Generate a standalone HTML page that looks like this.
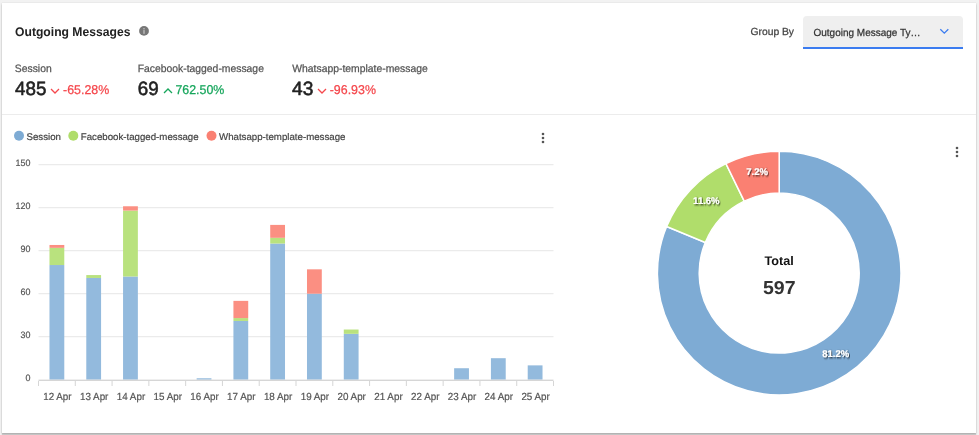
<!DOCTYPE html>
<html><head><meta charset="utf-8">
<style>
html,body{margin:0;padding:0;}
body{width:979px;height:435px;background:#f2f2f2;position:relative;overflow:hidden;font-family:"Liberation Sans",sans-serif;}
.card{position:absolute;left:2px;top:3px;width:974px;height:430px;background:#fff;box-shadow:0 1px 2px rgba(0,0,0,0.16),0 0 1px rgba(0,0,0,0.13),0 2px 1px rgba(0,0,0,0.14);}
svg{position:absolute;left:0;top:0;will-change:transform;}
svg text{font-family:"Liberation Sans",sans-serif;text-rendering:geometricPrecision;}
</style></head><body>
<div class="card"></div>
<svg width="979" height="435" viewBox="0 0 979 435">
<defs>
<filter id="ts" x="-20%" y="-40%" width="140%" height="180%">
<feGaussianBlur in="SourceAlpha" stdDeviation="0.8"/>
<feOffset dx="0.6" dy="0.8" result="b"/>
<feFlood flood-color="#000" flood-opacity="0.75"/>
<feComposite in2="b" operator="in"/>
<feMerge><feMergeNode/><feMergeNode in="SourceGraphic"/></feMerge>
</filter>
</defs>
<rect x="2" y="114" width="974" height="1" fill="#ececec"/>
<text transform="translate(15.00,35.80) scale(0.9650,1)" text-anchor="start" style="font-size:12.60px;font-weight:bold;fill:#222">Outgoing Messages</text>
<circle cx="144" cy="30.9" r="4.9" fill="#777"/>
<rect x="143.20" y="30.10" width="1.6" height="3.7" fill="#b4b4b4"/>
<rect x="143.20" y="28.00" width="1.6" height="1.4" fill="#b4b4b4"/>
<text transform="translate(750.50,34.80) scale(1.0000,1)" text-anchor="start" style="font-size:10.30px;font-weight:normal;fill:#444;stroke:#444;stroke-width:0.25px">Group By</text>
<path d="M803,47 V20 Q803,16 807,16 H959 Q963,16 963,20 V47 Z" fill="#efefef"/>
<rect x="803" y="47" width="160" height="2" fill="#3b7cf0"/>
<text transform="translate(813.50,36.20) scale(0.9700,1)" text-anchor="start" style="font-size:10.30px;font-weight:normal;fill:#333;stroke:#333;stroke-width:0.25px">Outgoing Message Ty…</text>
<path d="M940.3,29.3 L944.3,33.2 L948.3,29.3" fill="none" stroke="#3b7cf0" stroke-width="1.3"/>

<text transform="translate(14.80,72.00) scale(0.9700,1)" text-anchor="start" style="font-size:10.70px;font-weight:normal;fill:#555;stroke:#555;stroke-width:0.25px">Session</text>
<text transform="translate(15.00,94.50) scale(0.9800,1)" text-anchor="start" style="font-size:19.20px;font-weight:normal;fill:#222;stroke:#222;stroke-width:0.55px">485</text>
<path d="M51,89 L55,93 L59,89" fill="none" stroke="#f5484d" stroke-width="1.3"/>
<text transform="translate(63.00,93.70) scale(0.9700,1)" text-anchor="start" style="font-size:12.80px;font-weight:normal;fill:#f5484d;stroke:#f5484d;stroke-width:0.25px">-65.28%</text>
<text transform="translate(137.70,72.00) scale(0.9700,1)" text-anchor="start" style="font-size:10.70px;font-weight:normal;fill:#555;stroke:#555;stroke-width:0.25px">Facebook-tagged-message</text>
<text transform="translate(137.80,94.50) scale(0.9800,1)" text-anchor="start" style="font-size:19.20px;font-weight:normal;fill:#222;stroke:#222;stroke-width:0.55px">69</text>
<path d="M164,93 L168,89 L172,93" fill="none" stroke="#17a65c" stroke-width="1.3"/>
<text transform="translate(175.40,93.50) scale(0.9700,1)" text-anchor="start" style="font-size:12.80px;font-weight:normal;fill:#17a65c;stroke:#17a65c;stroke-width:0.25px">762.50%</text>
<text transform="translate(292.30,72.00) scale(0.9700,1)" text-anchor="start" style="font-size:10.70px;font-weight:normal;fill:#555;stroke:#555;stroke-width:0.25px">Whatsapp-template-message</text>
<text transform="translate(292.10,94.50) scale(1.0000,1)" text-anchor="start" style="font-size:19.20px;font-weight:normal;fill:#222;stroke:#222;stroke-width:0.55px">43</text>
<path d="M318,89 L322,93 L326,89" fill="none" stroke="#f5484d" stroke-width="1.3"/>
<text transform="translate(329.70,93.70) scale(0.9700,1)" text-anchor="start" style="font-size:12.80px;font-weight:normal;fill:#f5484d;stroke:#f5484d;stroke-width:0.25px">-96.93%</text>

<circle cx="19" cy="135.8" r="5" fill="#7eabd4"/>
<circle cx="73.3" cy="135.8" r="5" fill="#b0dd6b"/>
<circle cx="211.5" cy="135.8" r="5" fill="#fa8072"/>
<text transform="translate(26.50,139.70) scale(0.9990,1)" text-anchor="start" style="font-size:9.70px;font-weight:normal;fill:#444;stroke:#444;stroke-width:0.2px">Session</text>
<text transform="translate(80.80,139.70) scale(0.9990,1)" text-anchor="start" style="font-size:9.70px;font-weight:normal;fill:#444;stroke:#444;stroke-width:0.2px">Facebook-tagged-message</text>
<text transform="translate(219.00,139.70) scale(0.9990,1)" text-anchor="start" style="font-size:9.70px;font-weight:normal;fill:#444;stroke:#444;stroke-width:0.2px">Whatsapp-template-message</text>
<g fill="#555">
<circle cx="543" cy="134" r="1.3"/><circle cx="543" cy="138" r="1.3"/><circle cx="543" cy="142" r="1.3"/>
<circle cx="957" cy="148" r="1.3"/><circle cx="957" cy="152" r="1.3"/><circle cx="957" cy="156" r="1.3"/>
</g>
<rect x="38.5" y="164.20" width="515.0" height="1" fill="#e6e6e6"/>
<rect x="38.5" y="207.20" width="515.0" height="1" fill="#e6e6e6"/>
<rect x="38.5" y="250.20" width="515.0" height="1" fill="#e6e6e6"/>
<rect x="38.5" y="293.20" width="515.0" height="1" fill="#e6e6e6"/>
<rect x="38.5" y="336.20" width="515.0" height="1" fill="#e6e6e6"/>
<text transform="translate(30.5,166.30) scale(0.97,1)" text-anchor="end" style="font-size:9.2px;fill:#555;stroke:#555;stroke-width:0.2px">150</text>
<text transform="translate(30.5,209.30) scale(0.97,1)" text-anchor="end" style="font-size:9.2px;fill:#555;stroke:#555;stroke-width:0.2px">120</text>
<text transform="translate(30.5,252.30) scale(0.97,1)" text-anchor="end" style="font-size:9.2px;fill:#555;stroke:#555;stroke-width:0.2px">90</text>
<text transform="translate(30.5,295.30) scale(0.97,1)" text-anchor="end" style="font-size:9.2px;fill:#555;stroke:#555;stroke-width:0.2px">60</text>
<text transform="translate(30.5,338.30) scale(0.97,1)" text-anchor="end" style="font-size:9.2px;fill:#555;stroke:#555;stroke-width:0.2px">30</text>
<text transform="translate(30.5,381.30) scale(0.97,1)" text-anchor="end" style="font-size:9.2px;fill:#555;stroke:#555;stroke-width:0.2px">0</text>
<rect x="49.49" y="265.03" width="14.8" height="114.67" fill="#93badd"/>
<rect x="49.49" y="247.83" width="14.8" height="17.20" fill="#b9e27e"/>
<rect x="49.49" y="244.97" width="14.8" height="2.87" fill="#fb8f82"/>
<rect x="86.28" y="277.93" width="14.8" height="101.77" fill="#93badd"/>
<rect x="86.28" y="275.07" width="14.8" height="2.87" fill="#b9e27e"/>
<rect x="123.06" y="276.50" width="14.8" height="103.20" fill="#93badd"/>
<rect x="123.06" y="210.57" width="14.8" height="65.93" fill="#b9e27e"/>
<rect x="123.06" y="206.27" width="14.8" height="4.30" fill="#fb8f82"/>
<rect x="196.64" y="378.27" width="14.8" height="1.43" fill="#93badd"/>
<rect x="233.42" y="320.93" width="14.8" height="58.77" fill="#93badd"/>
<rect x="233.42" y="318.07" width="14.8" height="2.87" fill="#b9e27e"/>
<rect x="233.42" y="300.87" width="14.8" height="17.20" fill="#fb8f82"/>
<rect x="270.21" y="243.53" width="14.8" height="136.17" fill="#93badd"/>
<rect x="270.21" y="237.80" width="14.8" height="5.73" fill="#b9e27e"/>
<rect x="270.21" y="224.90" width="14.8" height="12.90" fill="#fb8f82"/>
<rect x="306.99" y="293.70" width="14.8" height="86.00" fill="#93badd"/>
<rect x="306.99" y="269.33" width="14.8" height="24.37" fill="#fb8f82"/>
<rect x="343.78" y="333.83" width="14.8" height="45.87" fill="#93badd"/>
<rect x="343.78" y="329.53" width="14.8" height="4.30" fill="#b9e27e"/>
<rect x="454.14" y="368.23" width="14.8" height="11.47" fill="#93badd"/>
<rect x="490.92" y="358.20" width="14.8" height="21.50" fill="#93badd"/>
<rect x="527.71" y="365.37" width="14.8" height="14.33" fill="#93badd"/>
<rect x="38.5" y="379.6" width="515.0" height="1.4" fill="#d6d6d6"/>
<rect x="38.00" y="381.00" width="1" height="5" fill="#d6d6d6"/>
<rect x="74.79" y="381.00" width="1" height="5" fill="#d6d6d6"/>
<rect x="111.57" y="381.00" width="1" height="5" fill="#d6d6d6"/>
<rect x="148.36" y="381.00" width="1" height="5" fill="#d6d6d6"/>
<rect x="185.14" y="381.00" width="1" height="5" fill="#d6d6d6"/>
<rect x="221.93" y="381.00" width="1" height="5" fill="#d6d6d6"/>
<rect x="258.71" y="381.00" width="1" height="5" fill="#d6d6d6"/>
<rect x="295.50" y="381.00" width="1" height="5" fill="#d6d6d6"/>
<rect x="332.29" y="381.00" width="1" height="5" fill="#d6d6d6"/>
<rect x="369.07" y="381.00" width="1" height="5" fill="#d6d6d6"/>
<rect x="405.86" y="381.00" width="1" height="5" fill="#d6d6d6"/>
<rect x="442.64" y="381.00" width="1" height="5" fill="#d6d6d6"/>
<rect x="479.43" y="381.00" width="1" height="5" fill="#d6d6d6"/>
<rect x="516.21" y="381.00" width="1" height="5" fill="#d6d6d6"/>
<rect x="553.00" y="381.00" width="1" height="5" fill="#d6d6d6"/>
<text transform="translate(57.39,400) scale(0.955,1)" text-anchor="middle" style="font-size:10.3px;fill:#555;stroke:#555;stroke-width:0.2px">12 Apr</text>
<text transform="translate(94.18,400) scale(0.955,1)" text-anchor="middle" style="font-size:10.3px;fill:#555;stroke:#555;stroke-width:0.2px">13 Apr</text>
<text transform="translate(130.96,400) scale(0.955,1)" text-anchor="middle" style="font-size:10.3px;fill:#555;stroke:#555;stroke-width:0.2px">14 Apr</text>
<text transform="translate(167.75,400) scale(0.955,1)" text-anchor="middle" style="font-size:10.3px;fill:#555;stroke:#555;stroke-width:0.2px">15 Apr</text>
<text transform="translate(204.54,400) scale(0.955,1)" text-anchor="middle" style="font-size:10.3px;fill:#555;stroke:#555;stroke-width:0.2px">16 Apr</text>
<text transform="translate(241.32,400) scale(0.955,1)" text-anchor="middle" style="font-size:10.3px;fill:#555;stroke:#555;stroke-width:0.2px">17 Apr</text>
<text transform="translate(278.11,400) scale(0.955,1)" text-anchor="middle" style="font-size:10.3px;fill:#555;stroke:#555;stroke-width:0.2px">18 Apr</text>
<text transform="translate(314.89,400) scale(0.955,1)" text-anchor="middle" style="font-size:10.3px;fill:#555;stroke:#555;stroke-width:0.2px">19 Apr</text>
<text transform="translate(351.68,400) scale(0.955,1)" text-anchor="middle" style="font-size:10.3px;fill:#555;stroke:#555;stroke-width:0.2px">20 Apr</text>
<text transform="translate(388.46,400) scale(0.955,1)" text-anchor="middle" style="font-size:10.3px;fill:#555;stroke:#555;stroke-width:0.2px">21 Apr</text>
<text transform="translate(425.25,400) scale(0.955,1)" text-anchor="middle" style="font-size:10.3px;fill:#555;stroke:#555;stroke-width:0.2px">22 Apr</text>
<text transform="translate(462.04,400) scale(0.955,1)" text-anchor="middle" style="font-size:10.3px;fill:#555;stroke:#555;stroke-width:0.2px">23 Apr</text>
<text transform="translate(498.82,400) scale(0.955,1)" text-anchor="middle" style="font-size:10.3px;fill:#555;stroke:#555;stroke-width:0.2px">24 Apr</text>
<text transform="translate(535.61,400) scale(0.955,1)" text-anchor="middle" style="font-size:10.3px;fill:#555;stroke:#555;stroke-width:0.2px">25 Apr</text>
<path d="M779.20,151.30 A121.8,121.8 0 1 1 666.64,226.56 L705.27,242.53 A80,80 0 1 0 779.20,193.10 Z" fill="#7eabd4" stroke="#fff" stroke-width="1.5" stroke-linejoin="round"/>
<path d="M666.64,226.56 A121.8,121.8 0 0 1 725.94,163.56 L744.22,201.15 A80,80 0 0 0 705.27,242.53 Z" fill="#b0dd6b" stroke="#fff" stroke-width="1.5" stroke-linejoin="round"/>
<path d="M725.94,163.56 A121.8,121.8 0 0 1 779.20,151.30 L779.20,193.10 A80,80 0 0 0 744.22,201.15 Z" fill="#fa8072" stroke="#fff" stroke-width="1.5" stroke-linejoin="round"/>
<text transform="translate(835.70,356.85) scale(0.97,1)" text-anchor="middle" filter="url(#ts)" style="font-size:9.8px;font-weight:bold;fill:#fff;stroke:#fff;stroke-width:0.15px">81.2%</text>
<text transform="translate(706.34,204.05) scale(0.97,1)" text-anchor="middle" filter="url(#ts)" style="font-size:9.8px;font-weight:bold;fill:#fff;stroke:#fff;stroke-width:0.15px">11.6%</text>
<text transform="translate(757.10,174.92) scale(0.97,1)" text-anchor="middle" filter="url(#ts)" style="font-size:9.8px;font-weight:bold;fill:#fff;stroke:#fff;stroke-width:0.15px">7.2%</text>
<text transform="translate(779.20,264.80) scale(1.0200,1)" text-anchor="middle" style="font-size:12.40px;font-weight:bold;fill:#111">Total</text>
<text transform="translate(779.30,293.70) scale(1.0400,1)" text-anchor="middle" style="font-size:18.80px;font-weight:bold;fill:#333">597</text>
</svg>
</body></html>
